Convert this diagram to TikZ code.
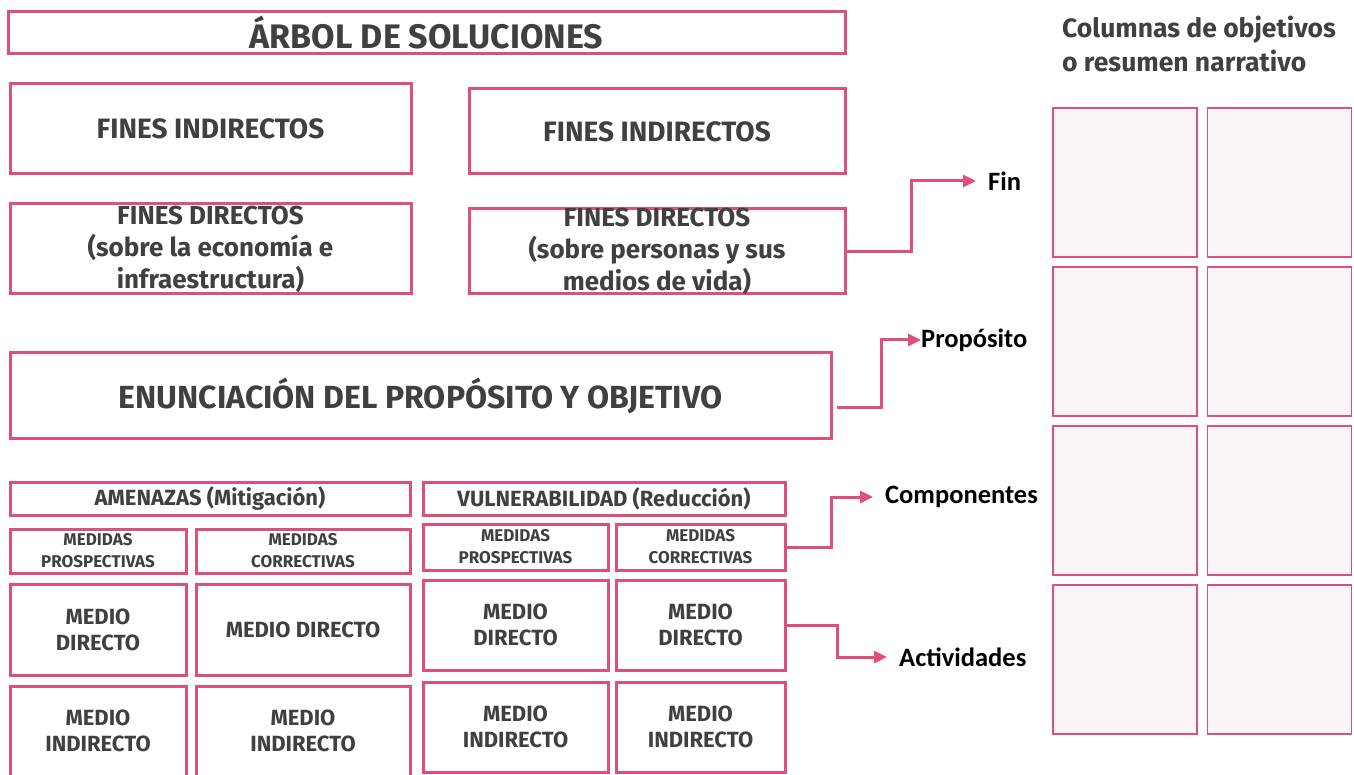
\documentclass[tikz,border=0pt]{standalone}
\usepackage{fontspec}
\setmainfont{Fira Sans}
\newfontfamily\calibri{Carlito}
\usetikzlibrary{
  arrows.meta,
  positioning
}
\definecolor{pink}{HTML}{DE4F7A}
\definecolor{lightpink}{HTML}{FCF5F8}
\definecolor{ink}{HTML}{404040}
\newcommand{\fsz}[2]{\fontsize{#1}{#2}\selectfont}
\tikzset{
  box/.style={
    draw=pink,
    line width=3pt,
    text=ink,
    align=center,
    inner sep=2pt,
    font=\bfseries\fsz{22}{26}
  },
  cell/.style 2 args={box, minimum width=#1, minimum height=#2},
  small/.style={font=\bfseries\fsz{17}{22}},
  head/.style={font=\bfseries\fsz{22}{24}},
  big/.style={font=\bfseries\fsz{26}{32}},
  gridcell/.style={
    draw=pink,
    line width=1.8pt,
    fill=lightpink,
    minimum width=144,
    minimum height=149
  },
  link/.style={-{Triangle[length=13pt,width=12pt]}, line width=3pt, draw=pink},
  level/.style={font=\calibri\bfseries\fsz{26.5}{30}, inner sep=0pt, anchor=west}
}

\begin{document}
\begin{tikzpicture}[x=1pt, y=-1pt]
  \useasboundingbox (0,0) rectangle (1354,775);

  \node[cell={837}{42}, font=\bfseries\fsz{34}{36}] (title) at (426.5,33)
    {ÁRBOL DE SOLUCIONES};

  % fines
  \node[cell={401}{90}, font=\bfseries\fsz{28}{32}] (fi1) at (210.5,129)
    {FINES INDIRECTOS};
  \node[cell={376}{85}, font=\bfseries\fsz{28}{32}] (fi2) at (657,131.5)
    {FINES INDIRECTOS};
  \node[cell={401}{90}, label={[big, text=ink, align=center]center:
    FINES DIRECTOS\\(sobre la economía e\\infraestructura)}] (fd1) at (210.5,249) {};
  \node[cell={376}{85}, label={[big, text=ink, align=center]center:
    FINES DIRECTOS\\(sobre personas y sus\\medios de vida)}] (fd2) at (657,251.5) {};

  \node[cell={821}{85}, font=\bfseries\fsz{32}{34}] (enun) at (420.5,395.5)
    {ENUNCIACIÓN DEL PROPÓSITO Y OBJETIVO};

  % amenazas
  \node[cell={400}{33}, head] (amen) at (210,498.5) {AMENAZAS (Mitigación)};
  \node[cell={176}{44}, small] (mp1) at (98,551) {MEDIDAS\\PROSPECTIVAS};
  \node[cell={214}{44}, small] (mc1) at (303,551) {MEDIDAS\\CORRECTIVAS};
  \node[cell={176}{91}] (md1) at (98,629.5) {MEDIO\\DIRECTO};
  \node[cell={214}{91}] (md2) at (303,629.5) {MEDIO DIRECTO};
  \node[cell={176}{90}] (mi1) at (98,731) {MEDIO\\INDIRECTO};
  \node[cell={214}{90}] (mi2) at (303,731) {MEDIO\\INDIRECTO};

  % vulnerabilidad
  \node[cell={362}{33}, head] (vuln) at (604,498.5) {VULNERABILIDAD (Reducción)};
  \node[cell={185}{46}, small] (mp2) at (515.5,547) {MEDIDAS\\PROSPECTIVAS};
  \node[cell={169}{46}, small] (mc2) at (700.5,547) {MEDIDAS\\CORRECTIVAS};
  \node[cell={185}{90}] (md3) at (515.5,625) {MEDIO\\DIRECTO};
  \node[cell={169}{90}] (md4) at (700.5,625) {MEDIO\\DIRECTO};
  \node[cell={185}{90}] (mi3) at (515.5,727) {MEDIO\\INDIRECTO};
  \node[cell={169}{90}] (mi4) at (700.5,727) {MEDIO\\INDIRECTO};

  % niveles
  \node[level] (fin) at (988,181) {Fin};
  \node[level] (prop) at (921,340) {Propósito};
  \node[level] (comp) at (885,497) {Componentes};
  \node[level] (act) at (899,657) {Actividades};

  \draw[link, shorten >=12pt] (fd2.east) -- ++(65,0) |- (fin.west);
  \draw[link] ([yshift=-12pt]enun.east) ++(4,0) -- ++(45,0) |- (prop.west);
  \draw[link, shorten >=12pt] (mc2.east) -- ++(45,0) |- (comp.west);
  \draw[link, shorten >=12pt] (md4.east) -- ++(51,0) |- (act.west);

  % columnas
  \node[anchor=north west, align=left, inner sep=0pt, text=ink,
    font=\bfseries\fsz{26.5}{34}] (cols) at (1062,16)
    {Columnas de objetivos\\o resumen narrativo};
  \foreach \r in {0,...,3}
    \foreach \c in {0,1}
      \node[gridcell] (g\r\c) at (1125+154.5*\c, 182.5+159*\r) {};
\end{tikzpicture}
\end{document}
